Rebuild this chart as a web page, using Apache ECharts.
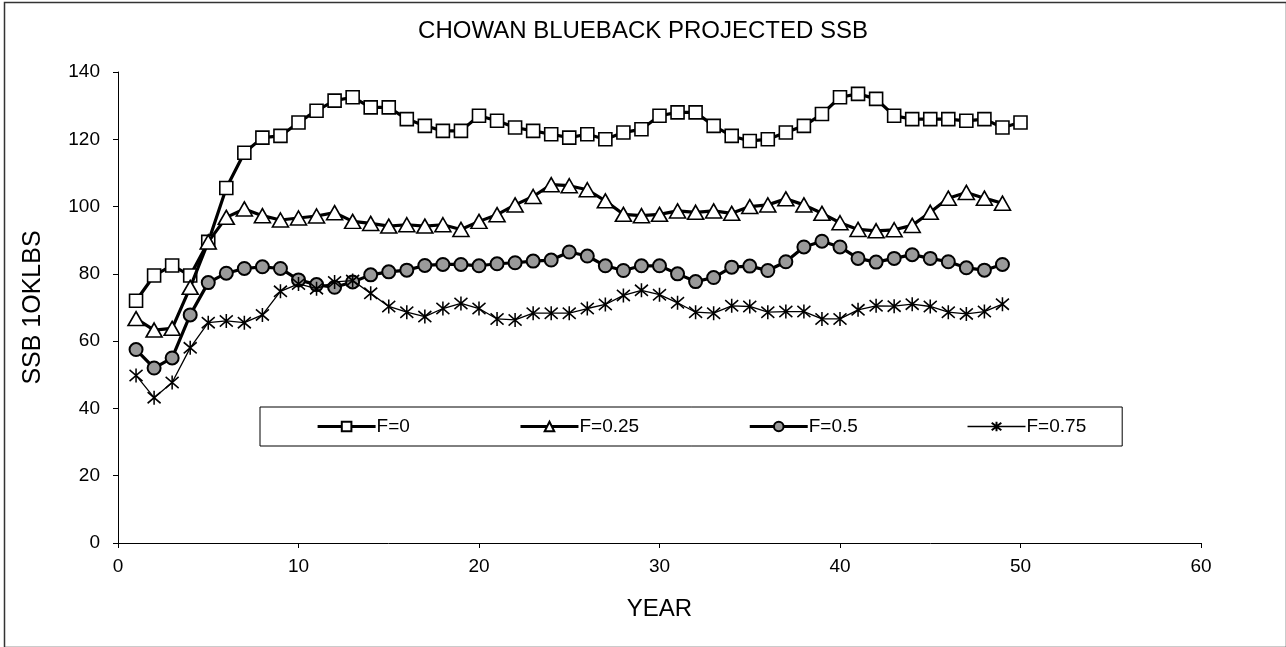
<!DOCTYPE html>
<html>
<head>
<meta charset="utf-8">
<title>Chowan Blueback Projected SSB</title>
<script src="https://cdn.jsdelivr.net/npm/echarts@6/dist/echarts.min.js"></script>
<style>
  html, body { margin: 0; padding: 0; background: #fff; }
  #chart { width: 1286px; height: 647px; }
</style>
</head>
<body>
<div id="chart"></div>
<script>
// Projected spawning stock biomass (units of 10,000 lbs) by year, for four fishing mortality rates.
const chartTitle = 'CHOWAN BLUEBACK PROJECTED SSB';
const xAxisName = 'YEAR';
const yAxisName = 'SSB 1OKLBS';
const seriesNames = ['F=0', 'F=0.25', 'F=0.5', 'F=0.75'];

const ssbF0 = [
  72, 79.5, 82.5, 79.5, 89.5, 105.5, 116, 120.5, 121, 125,
  128.5, 131.5, 132.5, 129.5, 129.5, 126, 124, 122.5, 122.5, 127,
  125.5, 123.5, 122.5, 121.5, 120.5, 121.5, 120, 122, 123, 127,
  128, 128, 124, 121, 119.5, 120, 122, 124, 127.5, 132.5,
  133.5, 132, 127, 126, 126, 126, 125.5, 126, 123.5, 125
];
const ssbF025 = [
  66.7, 63.3, 63.8, 76, 89.5, 96.8, 99.3, 97.3, 96, 96.6,
  97.2, 98.2, 95.6, 95, 94.2, 94.6, 94.2, 94.6, 93.2, 95.6,
  97.6, 100.5, 103, 106.5, 106.2, 105, 101.7, 97.7, 97.3, 97.7,
  98.7, 98.3, 98.7, 98, 100, 100.5, 102.3, 100.5, 98, 95.2,
  93.2, 92.8, 93.1, 94.4, 98.3, 102.5, 104.2, 102.5, 101
];
const ssbF05 = [
  57.5, 52, 55, 67.8, 77.4, 80.2, 81.6, 82.1, 81.6, 78.2,
  76.8, 76, 77.6, 79.7, 80.6, 81.1, 82.5, 82.8, 82.8, 82.4,
  83, 83.3, 83.8, 84.1, 86.5, 85.3, 82.4, 81, 82.4, 82.4,
  80, 77.7, 78.9, 82, 82.3, 81, 83.6, 88, 89.7, 88,
  84.6, 83.5, 84.6, 85.7, 84.6, 83.6, 81.8, 81.1, 82.8
];
const ssbF075 = [
  49.8, 43.2, 47.7, 58, 65.5, 66, 65.5, 67.8, 74.8, 77,
  75.6, 77.6, 78, 74.2, 70.3, 68.6, 67.3, 69.7, 71.2, 69.7,
  66.6, 66.3, 68.3, 68.3, 68.3, 69.7, 70.9, 73.6, 75.1, 73.8,
  71.4, 68.6, 68.3, 70.5, 70.3, 68.6, 68.8, 68.8, 66.6, 66.6,
  69.3, 70.5, 70.4, 71, 70.3, 68.6, 68.1, 68.8, 71
];
const allValues = [ssbF0, ssbF025, ssbF05, ssbF075];

// Pair each value with its projection year (1, 2, 3, ...).
function withYears(values) {
  return values.map((v, i) => [i + 1, v]);
}

// Asterisk marker: vertical stroke crossed by an X.
const asteriskPath = 'path://M0,-10L0,10M-8,-8L8,8M-8,8L8,-8';

const styles = [
  { symbol: 'rect', symbolSize: 13, fill: '#ffffff', lineWidth: 3.2, border: 1.6 },
  { symbol: 'triangle', symbolSize: [16, 14], fill: '#ffffff', lineWidth: 3.2, border: 1.6 },
  { symbol: 'circle', symbolSize: 13, fill: '#9a9a9a', lineWidth: 3.2, border: 2 },
  { symbol: asteriskPath, symbolSize: [13, 14], fill: '#000000', lineWidth: 1.3, border: 1.6 }
];

const font = '"Liberation Sans", Arial, sans-serif';

const chart = echarts.init(document.getElementById('chart'), null, { renderer: 'canvas' });

chart.setOption({
  backgroundColor: '#ffffff',
  animation: false,
  textStyle: { fontFamily: font, color: '#000' },
  title: {
    text: chartTitle,
    left: 'center',
    top: 14,
    textStyle: { fontFamily: font, fontSize: 24, fontWeight: 'normal', color: '#000' }
  },
  legend: {
    data: seriesNames,
    left: 260,
    top: 407,
    orient: 'horizontal',
    itemWidth: 58,
    itemHeight: 12,
    itemGap: 109,
    padding: [10, 36, 10, 56],
    borderColor: '#000',
    borderWidth: 1,
    backgroundColor: '#fff',
    lineStyle: { width: 'inherit' },
    textStyle: { fontFamily: font, fontSize: 19, color: '#000', padding: [0, 0, 0, -4] }
  },
  grid: { left: 118, right: 85, top: 72, bottom: 104, containLabel: false },
  xAxis: {
    type: 'value',
    min: 0,
    max: 60,
    interval: 10,
    name: xAxisName,
    nameLocation: 'middle',
    nameGap: 54,
    nameTextStyle: { fontFamily: font, fontSize: 24, color: '#000' },
    axisLine: { show: true, onZero: false, lineStyle: { color: '#000', width: 1 } },
    axisTick: { show: true, length: 5, lineStyle: { color: '#000' } },
    axisLabel: { fontFamily: font, fontSize: 19, color: '#000', margin: 14 },
    splitLine: { show: false }
  },
  yAxis: {
    type: 'value',
    min: 0,
    max: 140,
    interval: 20,
    name: yAxisName,
    nameLocation: 'middle',
    nameGap: 72,
    nameTextStyle: { fontFamily: font, fontSize: 25, color: '#000' },
    axisLine: { show: true, lineStyle: { color: '#000', width: 1 } },
    axisTick: { show: true, length: 5, lineStyle: { color: '#000' } },
    axisLabel: { fontFamily: font, fontSize: 19, color: '#000', margin: 18 },
    splitLine: { show: false }
  },
  series: seriesNames.map((name, k) => ({
    name: name,
    type: 'line',
    data: withYears(allValues[k]),
    symbol: styles[k].symbol,
    symbolSize: styles[k].symbolSize,
    showAllSymbol: true,
    lineStyle: { color: '#000', width: styles[k].lineWidth },
    itemStyle: { color: styles[k].fill, borderColor: '#000', borderWidth: styles[k].border },
    z: 2 + k
  })),
  graphic: [{
    type: 'rect',
    left: 2,
    top: 0,
    shape: { width: 1282, height: 645 },
    style: { fill: 'none', stroke: '#333', lineWidth: 1.5 },
    silent: true
  }]
});
</script>
</body>
</html>
